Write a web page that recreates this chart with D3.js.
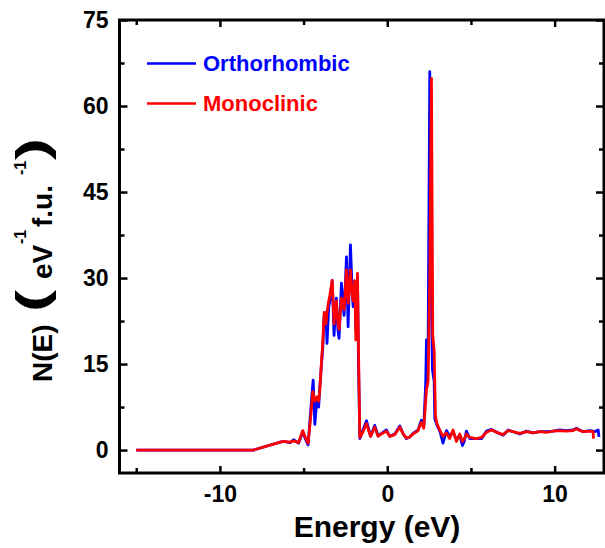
<!DOCTYPE html>
<html>
<head>
<meta charset="utf-8">
<script src="https://cdn.jsdelivr.net/npm/d3@7"></script>
<style>
  body { margin: 0; background: #fff; }
  svg { display: block; font-family: Arial, "Liberation Sans", sans-serif; font-weight: bold; }
</style>
</head>
<body>
<div class="chart"></div>
<script>
// Orthorhombic DOS (blue)
const orthoE = [-15, -8, -6.4, -6.2, -5.8, -5.6, -5.3, -5.05, -4.9, -4.73, -4.6, -4.43, -4.33, -4.2, -4.1, -4.03,
  -3.93, -3.85, -3.77, -3.66, -3.6, -3.5, -3.43, -3.29, -3.18, -3.1, -3.04, -2.95, -2.88, -2.74, -2.58, -2.44,
  -2.34, -2.2, -2.1, -2.04, -1.94, -1.88, -1.78, -1.72, -1.64, -1.45, -1.24, -1.0, -0.75, -0.55, -0.3, -0.05,
  0.15, 0.45, 0.75, 0.95, 1.15, 1.35, 1.54, 1.84, 1.94, 2.04, 2.18, 2.3, 2.34, 2.44, 2.54, 2.62, 2.7, 2.8,
  2.84, 2.95, 3.03, 3.15, 3.33, 3.54, 3.73, 3.93, 4.13, 4.33, 4.49, 4.6, 4.73, 4.93, 5.33, 5.63, 5.93, 6.22,
  6.62, 6.92, 7.22, 7.52, 7.92, 8.32, 8.71, 9.11, 9.51, 9.9, 10.3, 10.7, 11.1, 11.3, 11.7, 12.1, 12.4, 12.6, 12.65];
const orthoN = [0, 0, 1.4, 1.5, 1.3, 1.8, 1.2, 3.2, 2.0, 0.9, 6, 12.2, 4.5, 9, 7.5, 11,
  15, 18, 23.5, 24, 18.6, 25, 26, 29.6, 20, 24, 26.5, 21, 19.5, 29.1, 23.5, 33.7,
  21.5, 35.8, 28, 25, 29.5, 21, 30, 15, 2.0, 3.5, 5.1, 2.4, 4.3, 2.5, 3, 3.5,
  2.4, 2.8, 4.2, 2.8, 2.0, 2.3, 2.9, 3.5, 4.4, 5.2, 4.0, 12, 19.2, 18, 66, 30, 14, 12,
  5.5, 4.5, 4.0, 3.2, 1.2, 3.4, 2.4, 3.2, 1.8, 2.6, 0.8, 1.5, 3.3, 2.0, 2.0, 2.0, 3.3, 3.6,
  3.0, 2.6, 3.5, 3.2, 2.8, 3.3, 3.0, 3.2, 3.2, 3.3, 3.5, 3.4, 3.5, 3.8, 3.2, 3.4, 3.2, 3.5, 2.3];

// Monoclinic DOS (red)
const monoE = [-15, -8, -6.4, -6.2, -5.8, -5.6, -5.3, -5.05, -4.9, -4.73, -4.6, -4.45, -4.33, -4.2, -4.1, -4.03,
  -3.93, -3.85, -3.77, -3.66, -3.6, -3.5, -3.43, -3.29, -3.18, -3.1, -3.04, -2.95, -2.88, -2.74, -2.58, -2.44,
  -2.34, -2.2, -2.1, -2.04, -1.94, -1.88, -1.78, -1.72, -1.64, -1.45, -1.24, -1.0, -0.75, -0.55, -0.3, -0.05,
  0.15, 0.45, 0.75, 0.95, 1.15, 1.35, 1.54, 1.84, 1.94, 2.04, 2.18, 2.34, 2.44, 2.54, 2.64, 2.72, 2.8, 2.88,
  2.95, 3.03, 3.15, 3.33, 3.54, 3.73, 3.93, 4.13, 4.33, 4.49, 4.6, 4.73, 4.93, 5.33, 5.63, 5.93, 6.22,
  6.62, 6.92, 7.22, 7.52, 7.92, 8.32, 8.71, 9.11, 9.51, 9.9, 10.3, 10.7, 11.1, 11.3, 11.7, 12.1, 12.3, 12.32];
const monoN = [0, 0, 1.4, 1.5, 1.4, 1.6, 1.3, 3.4, 2.2, 1.2, 5, 10.2, 8.5, 9.3, 8.5, 10.5,
  15.5, 19, 24, 22, 24, 26, 27, 29.6, 22, 25, 26, 22, 21, 26.5, 24.5, 31.4,
  25.6, 31.4, 27, 26, 29.5, 19.2, 30.8, 18, 2.2, 3.2, 4.6, 2.4, 4.0, 2.4, 2.9, 3.3,
  2.4, 2.7, 4.0, 2.8, 2.1, 2.3, 2.8, 3.4, 4.2, 4.8, 3.8, 10.5, 12, 30, 64.8, 20, 17.4, 6,
  4.8, 4.2, 3.4, 2.4, 3.0, 2.0, 3.5, 1.5, 2.8, 1.5, 1.9, 2.8, 2.2, 2.0, 2.2, 3.1, 3.5,
  3.0, 2.7, 3.4, 3.2, 2.9, 3.2, 3.0, 3.2, 3.1, 3.3, 3.4, 3.3, 3.4, 3.7, 3.2, 3.3, 3.2, 2.0];

const seriesNames = ['Orthorhombic', 'Monoclinic'];
const seriesColors = ['#0000ff', '#ff0000'];

const xMajorTicks = [-10, 0, 10];
const xMinorTicks = [-15, -5, 5];
const yMajorTicks = [0, 15, 30, 45, 60, 75];
const yMinorTicks = [7.5, 22.5, 37.5, 52.5, 67.5];

const width = 605;
const height = 548;
const plotLeft = 119.5, plotRight = 604, plotTop = 20, plotBottom = 473;

const xScale = d3.scaleLinear().domain([-16, 12.95]).range([plotLeft, plotRight]);
const yScale = d3.scaleLinear().domain([-4, 75]).range([plotBottom, plotTop]);

const svg = d3.select('.chart')
  .append('svg')
  .attr('width', width)
  .attr('height', height);

// axes (ticks point inward, mirrored on top / right)
const axisStyle = g => {
  g.select('.domain').remove();
  g.selectAll('line').attr('stroke', '#000').attr('stroke-width', 2.5);
  g.selectAll('text').attr('fill', '#000').style('font-size', '23px');
};
const plainLabel = d => String(d); // hyphen minus, like the original

svg.append('g')
  .attr('transform', `translate(0, ${plotBottom})`)
  .call(d3.axisBottom(xScale).tickValues(xMajorTicks).tickSize(-7).tickPadding(13).tickFormat(plainLabel))
  .call(axisStyle);
svg.append('g')
  .attr('transform', `translate(0, ${plotBottom})`)
  .call(d3.axisBottom(xScale).tickValues(xMinorTicks).tickSize(-5).tickFormat(''))
  .call(axisStyle);
svg.append('g')
  .attr('transform', `translate(0, ${plotTop})`)
  .call(d3.axisTop(xScale).tickValues(xMajorTicks).tickSize(-7).tickFormat(''))
  .call(axisStyle);
svg.append('g')
  .attr('transform', `translate(0, ${plotTop})`)
  .call(d3.axisTop(xScale).tickValues(xMinorTicks).tickSize(-5).tickFormat(''))
  .call(axisStyle);

svg.append('g')
  .attr('transform', `translate(${plotLeft}, 0)`)
  .call(d3.axisLeft(yScale).tickValues(yMajorTicks).tickSize(-8).tickPadding(11).tickFormat(plainLabel))
  .call(axisStyle);
svg.append('g')
  .attr('transform', `translate(${plotLeft}, 0)`)
  .call(d3.axisLeft(yScale).tickValues(yMinorTicks).tickSize(-5).tickFormat(''))
  .call(axisStyle);
svg.append('g')
  .attr('transform', `translate(${plotRight}, 0)`)
  .call(d3.axisRight(yScale).tickValues(yMajorTicks).tickSize(-8).tickFormat(''))
  .call(axisStyle);
svg.append('g')
  .attr('transform', `translate(${plotRight}, 0)`)
  .call(d3.axisRight(yScale).tickValues(yMinorTicks).tickSize(-5).tickFormat(''))
  .call(axisStyle);

// data lines
const lineGenerator = d3.line()
  .x(d => xScale(d[0]))
  .y(d => yScale(d[1]));

const seriesData = [
  d3.zip(orthoE, orthoN),
  d3.zip(monoE, monoN)
];

seriesData.forEach((data, i) => {
  svg.append('path')
    .attr('fill', 'none')
    .attr('stroke', seriesColors[i])
    .attr('stroke-width', 2.8)
    .attr('stroke-linejoin', 'round')
    .attr('d', lineGenerator(data));
});

// frame
svg.append('rect')
  .attr('x', plotLeft)
  .attr('y', plotTop)
  .attr('width', plotRight - plotLeft)
  .attr('height', plotBottom - plotTop)
  .attr('fill', 'none')
  .attr('stroke', '#000')
  .attr('stroke-width', 3);

// legend
const legendY = [63.5, 103.5];
seriesNames.forEach((name, i) => {
  svg.append('line')
    .attr('x1', 147).attr('x2', 196)
    .attr('y1', legendY[i]).attr('y2', legendY[i])
    .attr('stroke', seriesColors[i])
    .attr('stroke-width', 2.6);
  svg.append('text')
    .attr('x', 203)
    .attr('y', legendY[i] + 7.5)
    .attr('fill', seriesColors[i])
    .style('font-size', '22px')
    .text(name);
});

// x title
svg.append('text')
  .attr('x', 377)
  .attr('y', 537)
  .attr('text-anchor', 'middle')
  .style('font-size', '30px')
  .text('Energy (eV)');

// y title, laid out along the rotated baseline
const yTitle = svg.append('g')
  .attr('transform', 'translate(52, 382) rotate(-90)');
yTitle.append('text').style('font-size', '28px').text('N(E)');
yTitle.append('text')
  .attr('transform', 'translate(70, -5) scale(1.5, 1)')
  .style('font-size', '44px').text('(');
yTitle.append('text').attr('x', 103).style('font-size', '28px').text('eV');
yTitle.append('text').attr('x', 138).attr('y', -26).style('font-size', '16px').text('-1');
yTitle.append('text').attr('x', 155).style('font-size', '28px').text('f.u.');
yTitle.append('text').attr('x', 207).attr('y', -26).style('font-size', '16px').text('-1');
yTitle.append('text')
  .attr('transform', 'translate(222, -5) scale(1.5, 1)')
  .style('font-size', '44px').text(')');
</script>
</body>
</html>
